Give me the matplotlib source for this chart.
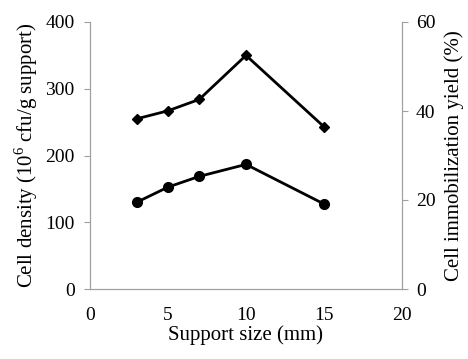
import matplotlib
matplotlib.use("Agg")
import matplotlib.pyplot as plt

plt.rcParams['font.family'] = ['Liberation Serif', 'DejaVu Serif']
plt.rcParams['mathtext.fontset'] = 'custom'
plt.rcParams['mathtext.rm'] = 'Liberation Serif'

size = [3, 5, 7, 10, 15]
density = [255, 267, 284, 350, 243]
yield_pct = [19.5, 22.9, 25.3, 28.0, 19.1]

fig = plt.figure(figsize=(4.68, 3.59), dpi=100)
ax = fig.add_axes([90/468, 70/359, 312/468, 267/359])
ax2 = ax.twinx()

ax.plot(size, density, color='black', lw=2, marker='D', markersize=5)
ax2.plot(size, yield_pct, color='black', lw=2, marker='o', markersize=7)

ax.set_xlim(0, 20)
ax.set_ylim(0, 400)
ax2.set_ylim(0, 60)
ax.set_xticks([0, 5, 10, 15, 20])
ax.set_yticks([0, 100, 200, 300, 400])
ax2.set_yticks([0, 20, 40, 60])

for a in (ax, ax2):
    a.spines['top'].set_visible(False)
    for s in ('left', 'right', 'bottom'):
        a.spines[s].set_color('#a0a0a0')
    a.tick_params(labelsize=14, colors='#a0a0a0', labelcolor='black', length=4)
ax.tick_params(axis='x', length=0, pad=13)
ax2.tick_params(axis='y', pad=6)
ax.tick_params(axis='y', pad=7)

ax.set_xlabel('Support size (mm)', fontsize=15, labelpad=1)
ax.set_ylabel('Cell density (10$^{\\mathrm{6}}$ cfu/g support)', fontsize=15, labelpad=4)
ax2.set_ylabel('Cell immobilization yield (%)', fontsize=15, labelpad=6)

fig.savefig('out.png', dpi=100)
